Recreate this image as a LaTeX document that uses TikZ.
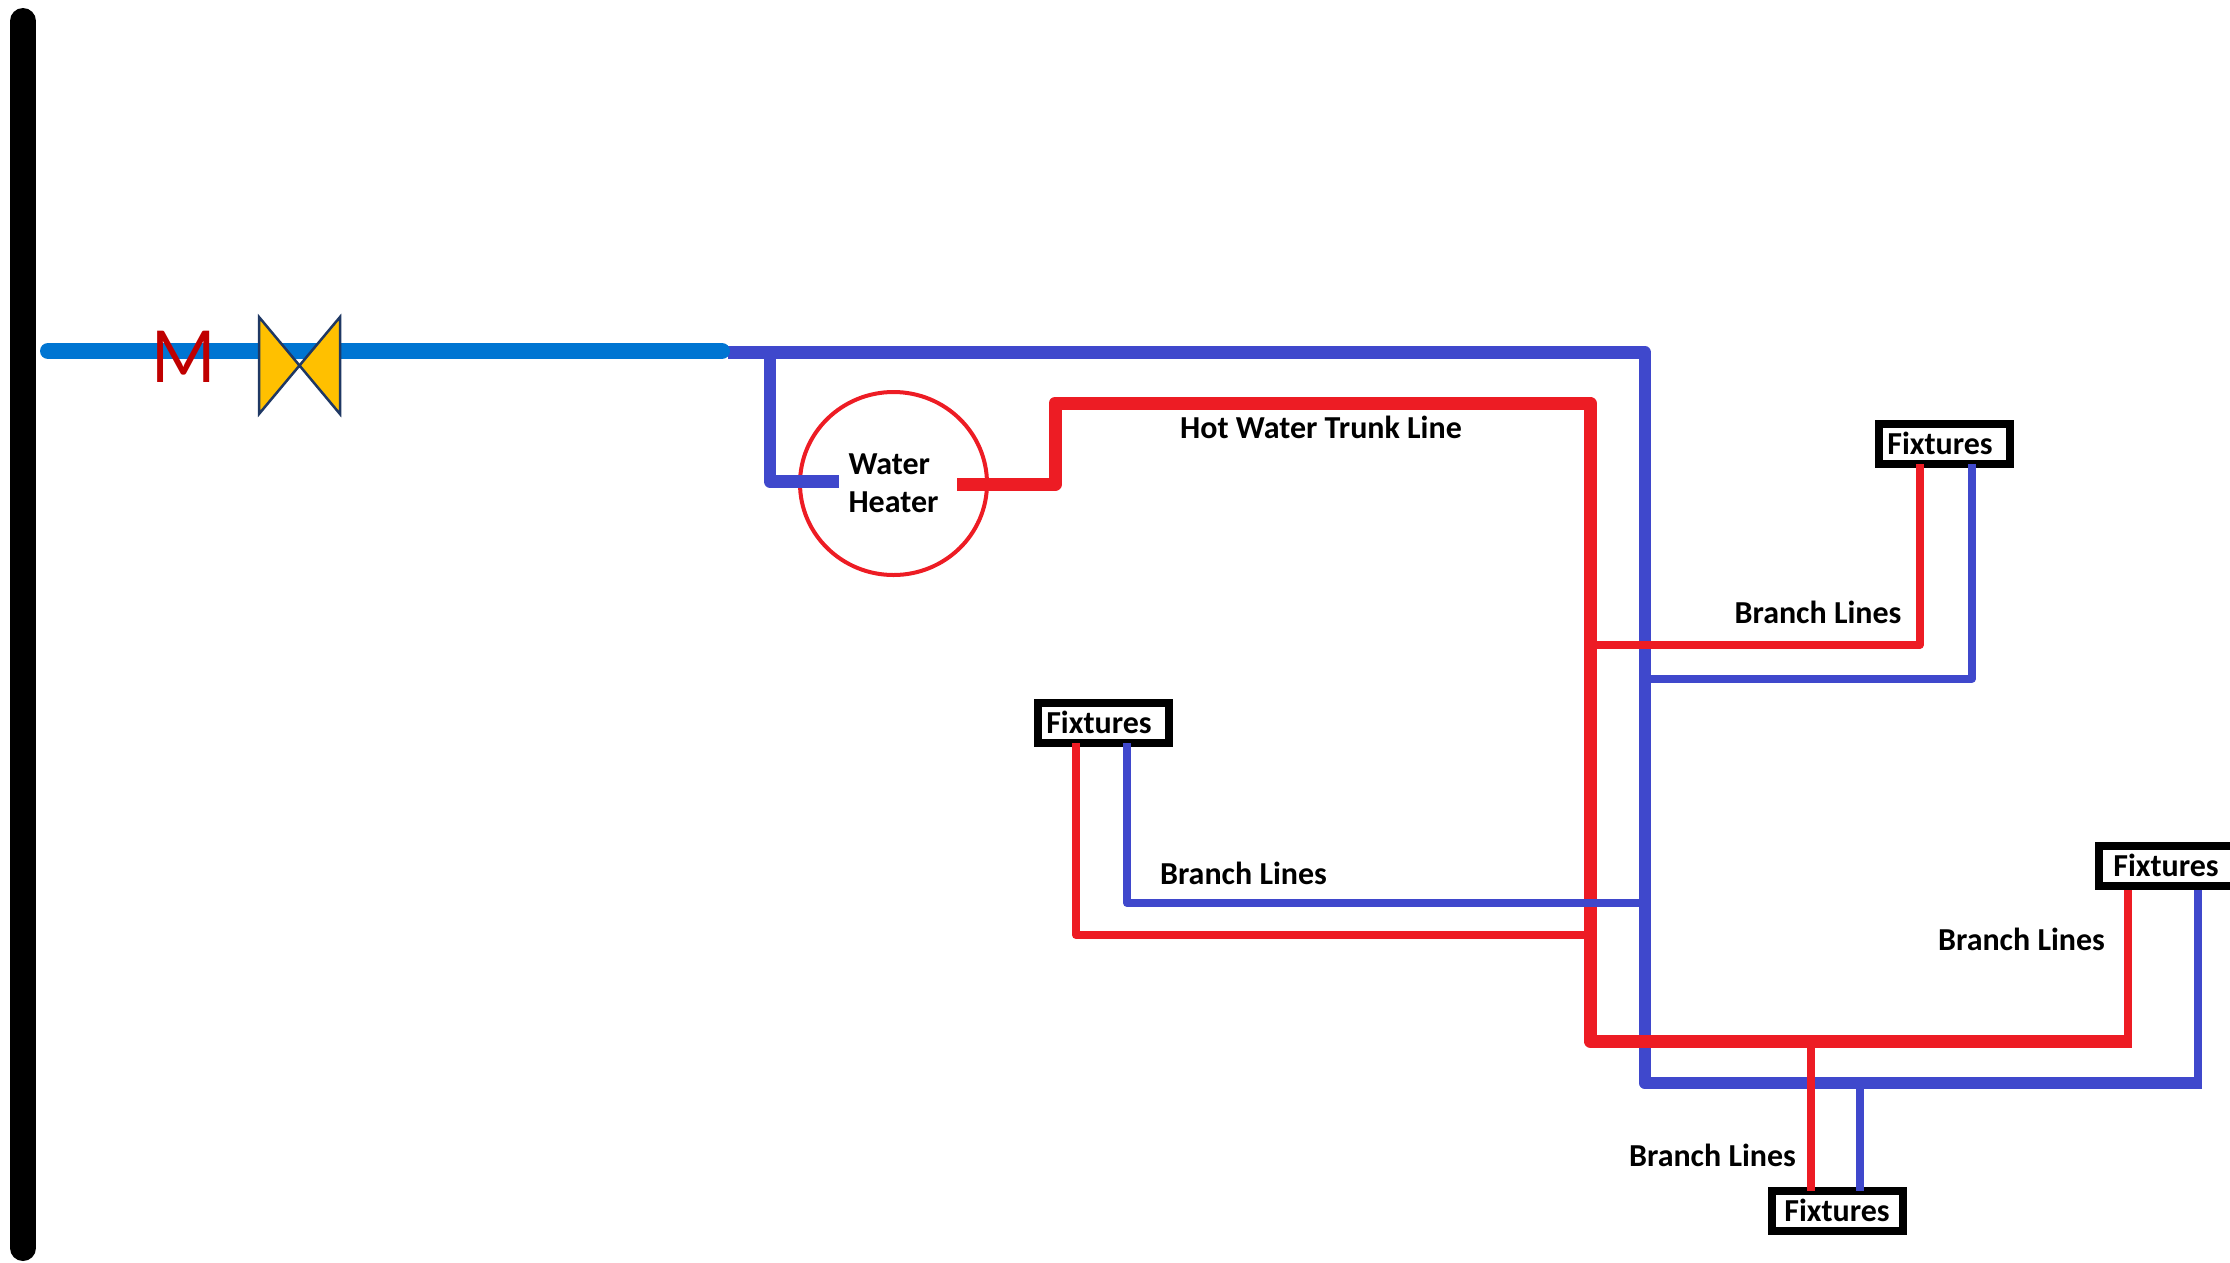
\documentclass[tikz,border=0pt]{standalone}
\usepackage{fontspec}
\usetikzlibrary{shapes.geometric}
\setmainfont{Carlito}
\definecolor{pblue}{HTML}{3F48CC}
\definecolor{pred}{HTML}{ED1C24}
\definecolor{mainblue}{HTML}{0075D2}
\definecolor{valvefill}{HTML}{FFC000}
\definecolor{valveline}{HTML}{1F3864}
\definecolor{mred}{HTML}{C00000}
\tikzset{
  x=1pt,y=-1pt,
  pipe/.style={line join=round,line cap=butt},
  coldthick/.style={pipe,draw=pblue,line width=12.5pt},
  coldthin/.style={pipe,draw=pblue,line width=8pt},
  hotthick/.style={pipe,draw=pred,line width=13pt},
  hotthin/.style={pipe,draw=pred,line width=8pt},
  fixturebox/.style={draw=black,fill=white,line width=8pt,rectangle,inner sep=0pt,
    minimum width=131pt,minimum height=40pt,font=\bfseries\fontsize{32}{34}\selectfont},
  caption/.style={font=\bfseries\fontsize{32}{34}\selectfont,inner sep=0pt},
}
\begin{document}
\begin{tikzpicture}
\useasboundingbox (0,0) rectangle (2230,1262);
\clip (0,0) rectangle (2230,1262);
% wall
\coordinate (wallT) at (23,21);
\coordinate (wallB) at (23,1248);
\draw[black,line width=26pt,line cap=round] (wallT) -- (wallB);
% nodes
\node[ellipse,draw=pred,line width=4pt,minimum width=187pt,minimum height=183pt,inner sep=0pt,align=left,
  font=\bfseries\fontsize{32}{38}\selectfont] (heater) at (893.5,483.5) {Water\\Heater};
\node[fixturebox] (fixTop) at (1944.5,443.5) {\raisebox{1pt}{Fixtures}\hspace{9pt}\mbox{}};
\node[fixturebox] (fixLeft) at (1103.5,723) {\raisebox{1pt}{Fixtures}\hspace{9pt}\mbox{}};
\node[fixturebox,minimum width=137pt] (fixRight) at (2167.5,866) {\raisebox{1pt}{Fixtures}\hspace{3pt}\mbox{}};
\node[fixturebox] (fixBot) at (1837,1211) {\raisebox{1pt}{Fixtures}};
% junction coordinates
\coordinate (mainS) at (48,351);
\coordinate (mainE) at (722,351);
\coordinate (coldS) at (728,352.5);
\coordinate (coldE) at (1645,352.5);
\coordinate (coldB) at (1645,1083);
\coordinate (coldR) at (2202,1083);
\coordinate (coldRC) at (2198,1083);
\coordinate (coldRT) at (2198,890);
\coordinate (inT) at (770,352);
\coordinate (inB) at (770,481.5);
\coordinate (inE) at (839,481.5);
\coordinate (outS) at (957,484.5);
\coordinate (outC) at (1055,484.5);
\coordinate (outU) at (1055,403);
\coordinate (hotC) at (1590,403);
\coordinate (hotB) at (1590,1041);
\coordinate (hotR) at (2131.5,1041);
\coordinate (hotRC) at (2127.5,1041);
\coordinate (hotRT) at (2127.5,890);
\coordinate (a1) at (1590,645);
\coordinate (a2) at (1919.5,645);
\coordinate (a3) at (1919.5,464);
\coordinate (b1) at (1645,678.5);
\coordinate (b2) at (1972,678.5);
\coordinate (b3) at (1972,464);
\coordinate (c1) at (1590,935);
\coordinate (c2) at (1076,935);
\coordinate (c3) at (1076,743);
\coordinate (d1) at (1645,903);
\coordinate (d2) at (1127,903);
\coordinate (d3) at (1127,743);
\coordinate (e1) at (1811,1041);
\coordinate (e2) at (1811,1191);
\coordinate (f1) at (1860,1083);
\coordinate (f2) at (1860,1191);
% cold pipes
\draw[coldthick] (coldS) -- (coldE) -- (coldB) -- (coldR);
\draw[coldthin] (coldRC) -- (coldRT);
\draw[coldthick] (inT) -- (inB) -- (inE);
\draw[coldthin] (b1) -- (b2) -- (b3);
\draw[coldthin] (f1) -- (f2);
% hot pipes
\draw[hotthick] (outS) -- (outC) -- (outU) -- (hotC) -- (hotB) -- (hotR);
\draw[hotthin] (hotRC) -- (hotRT);
\draw[hotthin] (a1) -- (a2) -- (a3);
\draw[hotthin] (c1) -- (c2) -- (c3);
\draw[hotthin] (e1) -- (e2);
\draw[coldthin] (d1) -- (d2) -- (d3);
% main supply
\draw[mainblue,line width=16pt,line cap=round] (mainS) -- (mainE);
% valve
\coordinate (v1) at (259,317);
\coordinate (v2) at (340,414);
\coordinate (v3) at (340,317);
\coordinate (v4) at (259,414);
\draw[valveline,fill=valvefill,line width=2.5pt,line join=miter] (v1) -- (v2) -- (v3) -- (v4) -- cycle;
\node[font=\fontsize{80}{80}\selectfont,text=mred,inner sep=0pt,xscale=.94] (meter) at (184,357) {M};
% captions
\node[caption] (capTrunk) at (1321,427.5) {Hot Water Trunk Line};
\node[caption] (capA) at (1818,612.5) {Branch Lines};
\node[caption] (capB) at (1243.5,873.5) {Branch Lines};
\node[caption] (capC) at (2021.5,939.5) {Branch Lines};
\node[caption] (capD) at (1712.5,1155.5) {Branch Lines};
\end{tikzpicture}
\end{document}
